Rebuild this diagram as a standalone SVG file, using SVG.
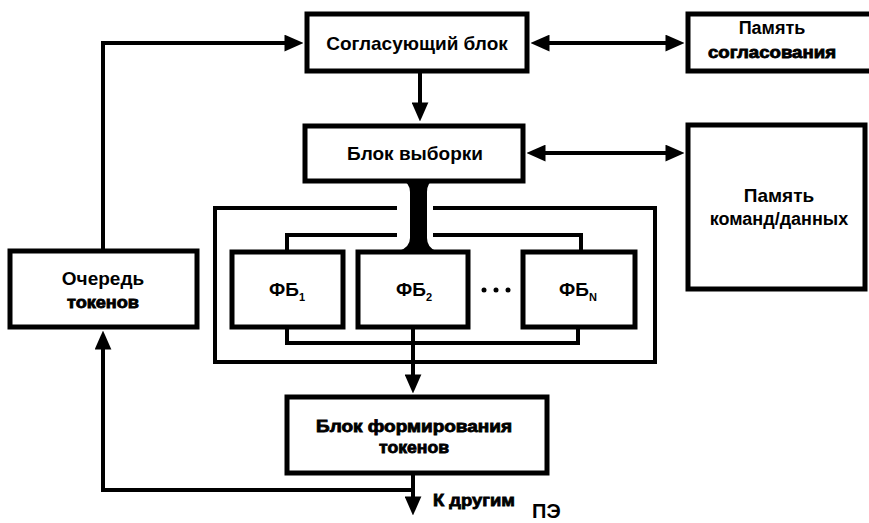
<svg xmlns="http://www.w3.org/2000/svg" width="869" height="523" viewBox="0 0 869 523">
<style>
.box{fill:#fff;stroke:#000;stroke-width:5}
.ln{fill:none;stroke:#000;stroke-width:4}
.t{font-family:"Liberation Sans",Arial,sans-serif;font-weight:bold;font-size:19px;fill:#000;text-anchor:middle}
.h{font-family:"Liberation Sans",Arial,sans-serif;font-weight:bold;font-size:16px;fill:#000;text-anchor:middle;stroke:#000;stroke-width:0.8}
.sub{font-size:11px}
</style>
<defs>
<marker id="ah" markerUnits="userSpaceOnUse" markerWidth="19" markerHeight="17" viewBox="0 0 17 15" refX="13" refY="7.5" orient="auto-start-reverse">
<path d="M0,0 L17,7.5 L0,15 Z" fill="#000"/>
</marker>
</defs>
<rect width="869" height="523" fill="#fff"/>

<g id="connectors">
<path class="ln" d="M103,251 V43 H299" marker-end="url(#ah)"/>
<path class="ln" d="M535,43 H680" marker-start="url(#ah)" marker-end="url(#ah)"/>
<path class="ln" d="M420,71 V117" marker-end="url(#ah)"/>
<path class="ln" d="M531,153 H680" marker-start="url(#ah)" marker-end="url(#ah)"/>
<path class="ln" d="M397,208 H215 V362 H655 V208 H433"/>
<path class="ln" d="M287,252 V235 H397 M433,235 H581 V252"/>
<path class="ln" d="M287,327 V343 H578 V327"/>
<path d="M401,179 H434 Q427,183 427,192 V238 Q427,247 436,251 H399 Q410,247 410,238 V192 Q410,183 401,179 Z" fill="#000"/>
<path class="ln" d="M413,327 V389" marker-end="url(#ah)"/>
<path class="ln" d="M413,473 V511" marker-end="url(#ah)"/>
<path class="ln" d="M413,490 H103 V335" marker-end="url(#ah)"/>
</g>

<g id="soglas">
<rect class="box" x="307" y="14" width="220" height="57"/>
<text class="t" x="417" y="50">Согласующий блок</text>
</g>
<g id="pam-soglas">
<rect class="box" x="688" y="14" width="200" height="57"/>
<text class="t" x="772" y="34" style="font-size:18px">Память</text>
<text class="h" x="772" y="58" textLength="128" lengthAdjust="spacingAndGlyphs">согласования</text>
</g>
<g id="vyborka">
<rect class="box" x="305" y="126" width="218" height="55"/>
<text class="t" x="415" y="160">Блок выборки</text>
</g>
<g id="pam-komand">
<rect class="box" x="688" y="125" width="177" height="164"/>
<text class="t" x="779" y="202">Память</text>
<text class="t" x="779" y="225" style="font-size:18px">команд/данных</text>
</g>
<g id="fb1">
<rect class="box" x="232" y="252" width="111" height="75"/>
<text class="t" x="287" y="296">ФБ<tspan class="sub" dy="5">1</tspan></text>
</g>
<g id="fb2">
<rect class="box" x="358" y="252" width="110" height="75"/>
<text class="t" x="414" y="296">ФБ<tspan class="sub" dy="5">2</tspan></text>
</g>
<g id="dots">
<circle cx="484" cy="290" r="2.5"/>
<circle cx="496" cy="290" r="2.5"/>
<circle cx="508" cy="290" r="2.5"/>
</g>
<g id="fbn">
<rect class="box" x="523" y="252" width="112" height="75"/>
<text class="t" x="578" y="296">ФБ<tspan class="sub" dy="5">N</tspan></text>
</g>
<g id="ochered">
<rect class="box" x="10" y="251" width="187" height="76"/>
<text class="t" x="103" y="285">Очередь</text>
<text class="h" x="103" y="308" textLength="72" lengthAdjust="spacingAndGlyphs">токенов</text>
</g>
<g id="formirovanie">
<rect class="box" x="287" y="397" width="260" height="76"/>
<text class="h" x="414" y="432" textLength="196" lengthAdjust="spacingAndGlyphs">Блок формирования</text>
<text class="h" x="414" y="453" textLength="70" lengthAdjust="spacingAndGlyphs">токенов</text>
</g>
<g id="label-out">
<text class="h" x="433" y="506" style="text-anchor:start;font-size:17px" textLength="82" lengthAdjust="spacingAndGlyphs">К другим</text>
<text class="t" x="532" y="518" style="text-anchor:start;font-size:20px">ПЭ</text>
</g>
</svg>
